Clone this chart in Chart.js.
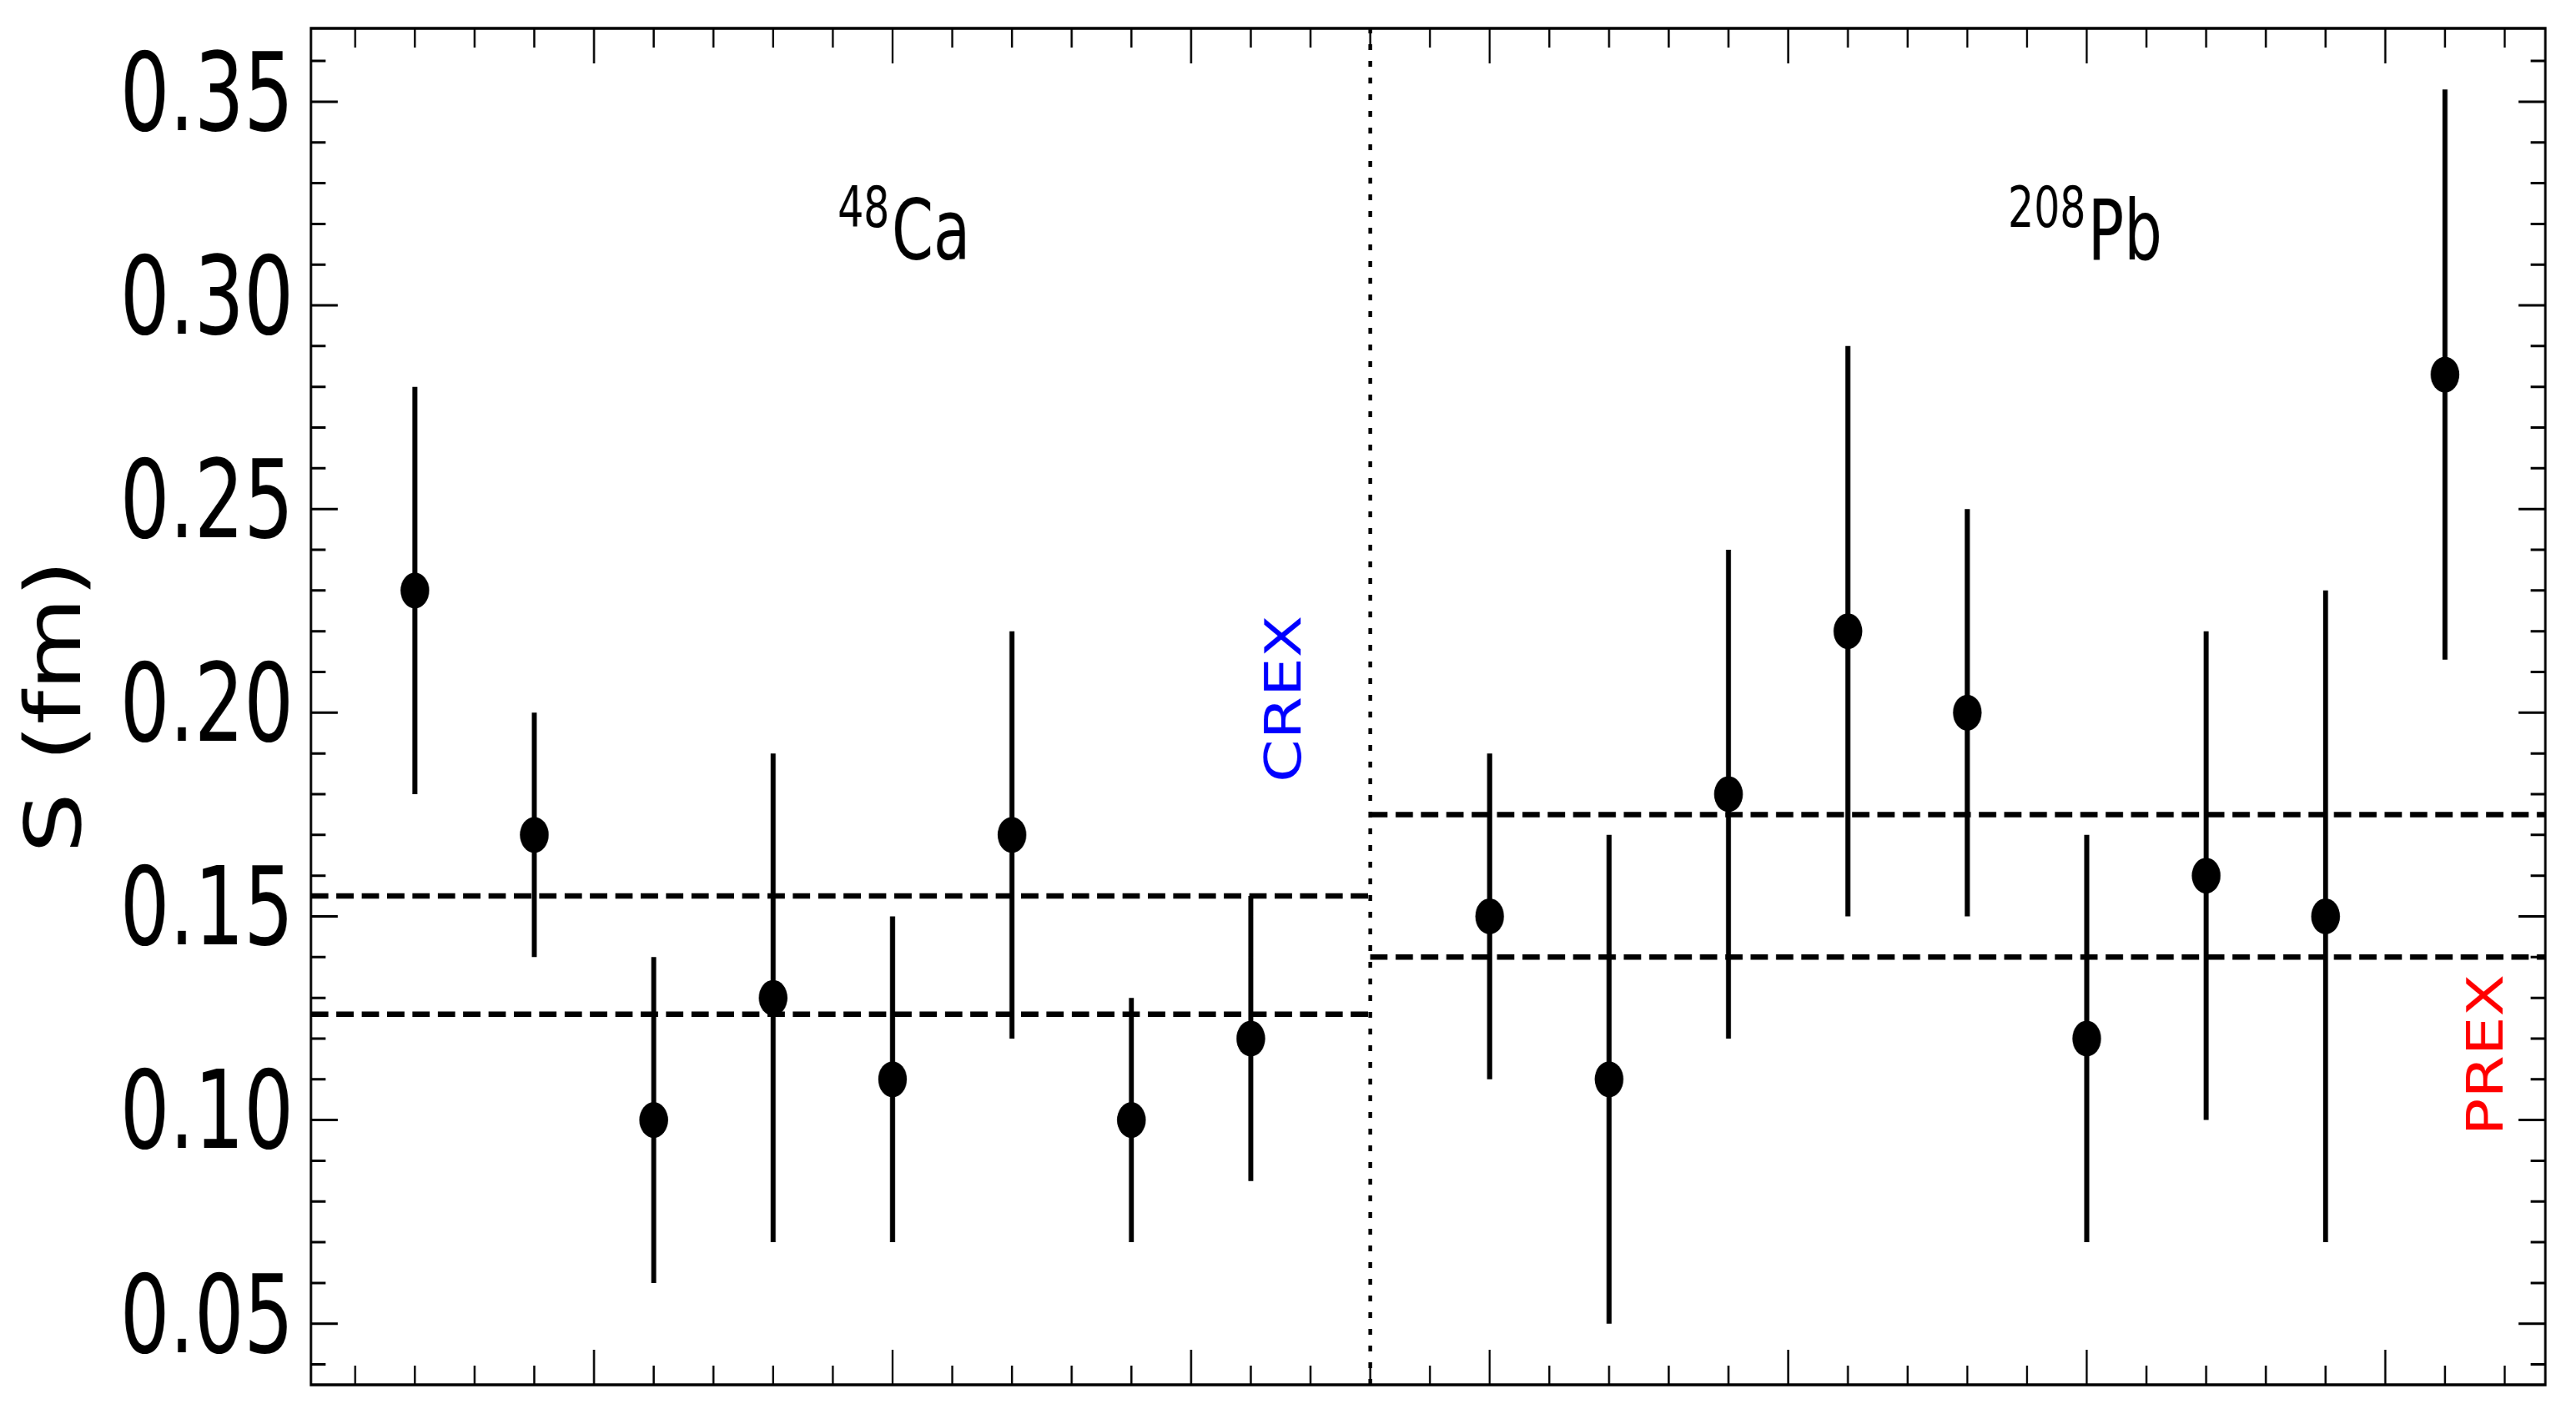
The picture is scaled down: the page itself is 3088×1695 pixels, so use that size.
<!DOCTYPE html>
<html>
<head>
<meta charset="utf-8">
<script src="https://cdn.jsdelivr.net/npm/chart.js@4.4.1/dist/chart.umd.min.js"></script>
<style>
  html, body { margin: 0; padding: 0; background: #fff; overflow: hidden; }
  /* the reference figure is squeezed horizontally, so draw wider and squeeze */
  #wrap { width: 3860px; height: 1695px; transform: scaleX(0.8); transform-origin: 0 0; }
</style>
</head>
<body>
<div id="wrap"><canvas id="chart" width="3860" height="1695"></canvas></div>
<script>
// 48Ca points
var caX = [1, 2, 3, 4, 5, 6, 7, 8];
var caS = [0.23, 0.17, 0.10, 0.13, 0.11, 0.17, 0.10, 0.12];
var caLow = [0.18, 0.14, 0.06, 0.07, 0.07, 0.12, 0.07, 0.085];
var caHigh = [0.28, 0.20, 0.14, 0.19, 0.15, 0.22, 0.13, 0.155];

// 208Pb points
var pbX = [10, 11, 12, 13, 14, 15, 16, 17, 18];
var pbS = [0.15, 0.11, 0.18, 0.22, 0.20, 0.12, 0.16, 0.15, 0.283];
var pbLow = [0.11, 0.05, 0.12, 0.15, 0.15, 0.07, 0.10, 0.07, 0.213];
var pbHigh = [0.19, 0.17, 0.24, 0.29, 0.25, 0.17, 0.22, 0.23, 0.353];

// CREX / PREX bands
var crexBand = [0.126, 0.155];
var prexBand = [0.14, 0.175];
var dividerX = 9;

// axes
var xRange = [0.13, 18.84];
var yRange = [0.035, 0.368];
var yTickValues = [0.05, 0.10, 0.15, 0.20, 0.25, 0.30, 0.35];
var xMajorTicks = [2.5, 5, 7.5, 10, 12.5, 15, 17.5];

var condensed = '"DejaVu Sans Condensed", "DejaVu Sans", sans-serif';

function toPoints(xs, ys) {
    return xs.map(function (x, i) { return { x: x, y: ys[i] }; });
}

function errorBars(xs, lo, hi) {
    var out = [];
    xs.forEach(function (x, i) {
        out.push({ x: x, y: lo[i] }, { x: x, y: hi[i] }, { x: x, y: null });
    });
    return out;
}

function hLine(y, x0, x1) {
    return [{ x: x0, y: y }, { x: x1, y: y }];
}

var lineDefaults = {
    showLine: true,
    pointRadius: 0,
    borderColor: '#000',
    backgroundColor: '#000',
    spanGaps: false,
    fill: false
};

var datasets = [
    Object.assign({}, lineDefaults, { data: hLine(crexBand[1], xRange[0], dividerX), borderWidth: 6.5, borderDash: [26, 12] }),
    Object.assign({}, lineDefaults, { data: hLine(crexBand[0], xRange[0], dividerX), borderWidth: 6.5, borderDash: [26, 12] }),
    Object.assign({}, lineDefaults, { data: hLine(prexBand[1], dividerX, xRange[1]), borderWidth: 6.5, borderDash: [26, 12] }),
    Object.assign({}, lineDefaults, { data: hLine(prexBand[0], dividerX, xRange[1]), borderWidth: 6.5, borderDash: [26, 12] }),
    Object.assign({}, lineDefaults, { data: [{ x: dividerX, y: yRange[0] }, { x: dividerX, y: yRange[1] }], borderWidth: 5.5, borderDash: [7, 13] }),
    Object.assign({}, lineDefaults, { data: errorBars(caX, caLow, caHigh), borderWidth: 7.5 }),
    Object.assign({}, lineDefaults, { data: errorBars(pbX, pbLow, pbHigh), borderWidth: 7.5 }),
    { data: toPoints(caX, caS), pointRadius: 21.5, pointBackgroundColor: '#000', pointBorderWidth: 0, showLine: false },
    { data: toPoints(pbX, pbS), pointRadius: 21.5, pointBackgroundColor: '#000', pointBorderWidth: 0, showLine: false }
];

var framePlugin = {
    id: 'frame',
    afterDraw: function (chart) {
        var ctx = chart.ctx;
        var a = chart.chartArea;
        var xs = chart.scales.x, ys = chart.scales.y;
        ctx.save();
        ctx.strokeStyle = '#000';
        ctx.lineWidth = 3;
        ctx.beginPath();
        // x ticks, inward, top and bottom
        for (var k = 1; k <= 37; k++) {
            var v = k * 0.5;
            var px = xs.getPixelForValue(v);
            var len = xMajorTicks.indexOf(v) >= 0 ? 42 : 23;
            ctx.moveTo(px, a.bottom); ctx.lineTo(px, a.bottom - len);
            ctx.moveTo(px, a.top); ctx.lineTo(px, a.top + len);
        }
        // y ticks, inward, left and right
        for (var j = 4; j <= 36; j++) {
            var yv = j / 100;
            var py = ys.getPixelForValue(yv);
            var ylen = j % 5 === 0 ? 40 : 22;
            ctx.moveTo(a.left, py); ctx.lineTo(a.left + ylen, py);
            ctx.moveTo(a.right, py); ctx.lineTo(a.right - ylen, py);
        }
        ctx.stroke();
        ctx.lineWidth = 3.5;
        ctx.strokeRect(a.left, a.top, a.right - a.left, a.bottom - a.top);

        // isotope labels
        ctx.fillStyle = '#000';
        ctx.textAlign = 'left';
        ctx.textBaseline = 'alphabetic';
        function isotope(mass, sym, xv, yv) {
            var x0 = xs.getPixelForValue(xv), y0 = ys.getPixelForValue(yv);
            ctx.font = '68px ' + condensed;
            ctx.fillText(mass, x0, y0 - 39);
            var w = ctx.measureText(mass).width;
            ctx.font = '100px ' + condensed;
            ctx.fillText(sym, x0 + w + 3, y0);
        }
        isotope('48', 'Ca', 4.54, 0.3113);
        isotope('208', 'Pb', 14.34, 0.3113);

        // rotated experiment labels
        function vertical(text, color, xv, yv) {
            ctx.save();
            ctx.translate(xs.getPixelForValue(xv), ys.getPixelForValue(yv));
            ctx.rotate(-Math.PI / 2);
            ctx.font = '74px "DejaVu Sans", sans-serif';
            ctx.fillStyle = color;
            ctx.textAlign = 'center';
            ctx.textBaseline = 'alphabetic';
            ctx.fillText(text, 0, 0);
            ctx.restore();
        }
        vertical('CREX', '#0000ff', 8.416, 0.2034);
        vertical('PREX', '#ff0000', 18.48, 0.116);
        ctx.restore();
    }
};

var chart = new Chart(document.getElementById('chart'), {
    type: 'scatter',
    data: { datasets: datasets },
    plugins: [framePlugin],
    options: {
        responsive: false,
        devicePixelRatio: 1,
        animation: false,
        layout: {
            padding: { left: 0, top: 34, right: 46, bottom: 35 }
        },
        scales: {
            x: {
                type: 'linear',
                display: false,
                min: xRange[0],
                max: xRange[1]
            },
            y: {
                type: 'linear',
                min: yRange[0],
                max: yRange[1],
                afterBuildTicks: function (scale) {
                    scale.ticks = yTickValues.map(function (v) { return { value: v }; });
                },
                afterFit: function (scale) {
                    scale.width = 466;
                    scale.paddingTop = 0;
                    scale.paddingBottom = 0;
                },
                grid: { display: false, drawTicks: false },
                border: { display: false },
                ticks: {
                    autoSkip: false,
                    padding: 26,
                    color: '#000',
                    font: { size: 130, family: condensed },
                    callback: function (v) { return Number(v).toFixed(2); }
                },
                title: {
                    display: true,
                    text: 'S (fm)',
                    color: '#000',
                    padding: { top: 21, bottom: 0 },
                    font: { size: 115, family: '"DejaVu Sans", sans-serif' }
                }
            }
        },
        plugins: {
            legend: { display: false },
            tooltip: { enabled: false }
        }
    }
});
</script>
</body>
</html>
